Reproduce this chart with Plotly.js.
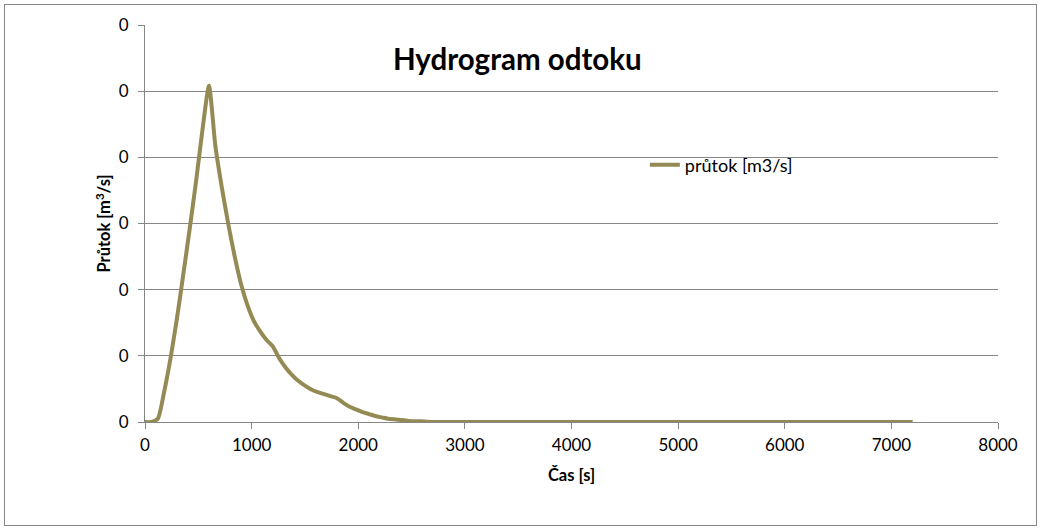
<!DOCTYPE html>
<html>
<head>
<meta charset="utf-8">
<script src="https://cdn.plot.ly/plotly-3.0.1.min.js"></script>
<style>
  html, body { margin: 0; padding: 0; background: #fff; }
  #wrap { position: relative; width: 1043px; height: 531px; }
  #chart { position: absolute; left: 0; top: 0; width: 1043px; height: 531px; }
  #frame { position: absolute; left: 4px; top: 4px; width: 1031px; height: 520px; border: 1px solid #868686; pointer-events: none; }
</style>
</head>
<body>
<div id="wrap">
  <div id="chart"></div>
  <div id="frame"></div>
</div>
<script>
// Time [s]
const casS = [0, 60, 120, 180, 240, 300, 360, 420, 480, 540, 600,
  660, 720, 780, 840, 900, 960, 1020, 1080, 1140, 1200,
  1260, 1320, 1380, 1440, 1500, 1560, 1620, 1680, 1740, 1800,
  1860, 1920, 1980, 2040, 2100, 2160, 2220, 2280, 2340, 2400,
  2460, 2520, 2580, 2640, 2700, 7200];
// Discharge [m3/s]
const prutok = [0, 0, 0.0005, 0.0046, 0.0097, 0.0157, 0.0224, 0.0293, 0.0365, 0.0443, 0.0508,
  0.0417, 0.0355, 0.0300, 0.0251, 0.0209, 0.0177, 0.0153, 0.0137, 0.0124, 0.0114,
  0.0096, 0.0082, 0.0071, 0.0062, 0.0055, 0.0049, 0.0045, 0.0042, 0.0039, 0.0036,
  0.0029, 0.0023, 0.0019, 0.0015, 0.0012, 0.0009, 0.0007, 0.0005, 0.0004, 0.0003,
  0.0002, 0.0001, 0.0001, 0.00005, 0, 0];
const seriesName = 'průtok [m3/s]';
const chartTitle = 'Hydrogram odtoku';
const xTitle = 'Čas [s]';
const yTitle = 'Průtok [m<sup>3</sup>/s]';

const font = 'Lato, "Open Sans", sans-serif';
const grid = '#868686';

Plotly.newPlot('chart', [{
  x: casS, y: prutok, type: 'scatter', mode: 'lines', name: seriesName,
  line: { color: '#948A54', width: 4, shape: 'spline', smoothing: 0.6 }
}], {
  width: 1043, height: 531,
  margin: { l: 145, r: 45, t: 25, b: 109 },
  paper_bgcolor: '#fff', plot_bgcolor: '#fff',
  font: { family: font, color: '#000', size: 16 },
  title: { text: '<b>' + chartTitle + '</b>', font: { family: font, size: 29.5, color: '#000' },
    xref: 'container', yref: 'container', x: 0.496, y: 0.887, xanchor: 'center', yanchor: 'middle' },
  showlegend: true,
  legend: { x: 0.586, y: 0.647, xanchor: 'left', yanchor: 'middle', bgcolor: 'rgba(0,0,0,0)',
    font: { family: font, size: 18, color: '#000' }, itemwidth: 30 },
  xaxis: {
    range: [0, 8000], dtick: 1000, tick0: 0,
    showgrid: false, zeroline: false,
    showline: true, linecolor: grid, linewidth: 1,
    ticks: 'outside', ticklen: 6, tickcolor: grid,
    ticklabelstandoff: 2,
    tickfont: { family: font, size: 17, color: '#000' },
    title: { text: '<b>' + xTitle + '</b>', font: { family: font, size: 16.5, color: '#000' }, standoff: 15 }
  },
  yaxis: {
    range: [0, 0.06], dtick: 0.01, tick0: 0, tickformat: '.0f',
    showgrid: true, gridcolor: grid, gridwidth: 1, zeroline: false,
    showline: true, linecolor: grid, linewidth: 1,
    ticks: 'outside', ticklen: 6, tickcolor: grid,
    ticklabelstandoff: 6,
    tickfont: { family: font, size: 17, color: '#000' },
    title: { text: '<b>' + yTitle + '</b>', font: { family: font, size: 16.5, color: '#000' }, standoff: 3 }
  }
}, { displayModeBar: false, staticPlot: true });
</script>
</body>
</html>
